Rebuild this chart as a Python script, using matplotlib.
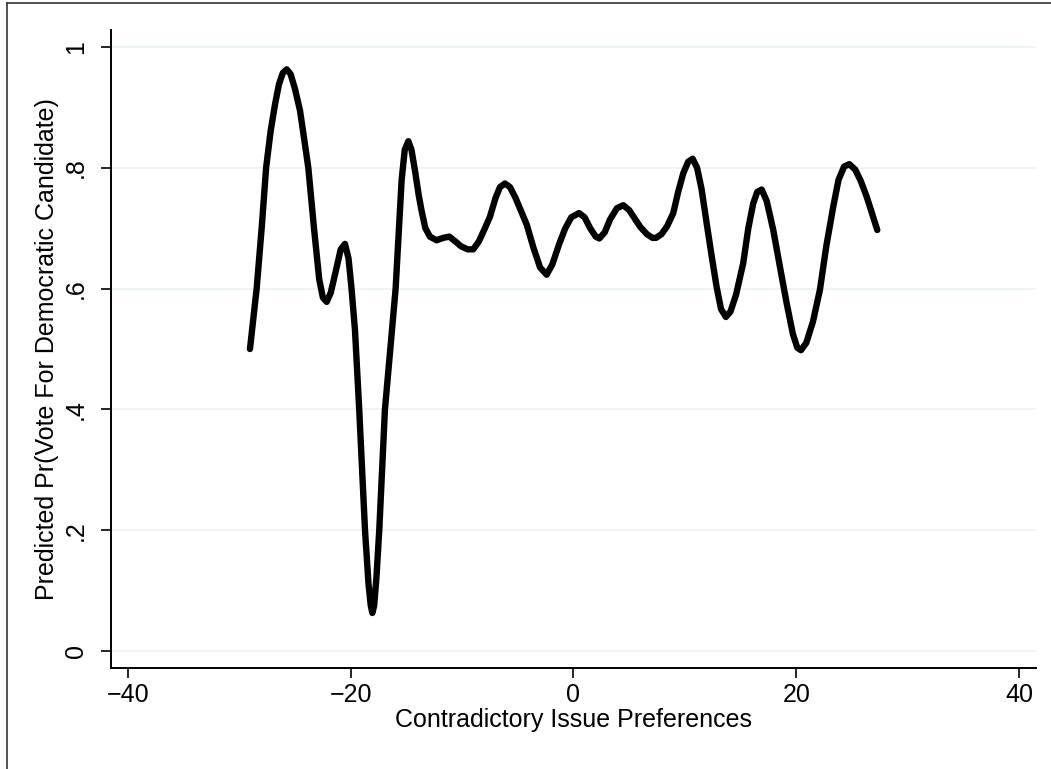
import matplotlib
matplotlib.use("Agg")
import matplotlib.pyplot as plt
from matplotlib.lines import Line2D

plt.rcParams['font.family'] = ['Liberation Sans', 'DejaVu Sans']

# predicted probability along the issue-preference scale
pref = [-29.05, -28.75, -28.45, -28.00, -27.60, -27.20, -26.80, -26.45, -26.10,
        -25.75, -25.40, -25.00, -24.56, -24.20, -23.81, -23.30, -22.83, -22.50,
        -22.16, -21.80, -21.33, -20.90, -20.52, -20.20, -19.93, -19.62, -19.24,
        -18.72, -18.40, -18.20, -18.06, -17.90, -17.70, -17.44, -16.93, -16.40,
        -15.97, -15.43, -15.15, -14.83, -14.55, -14.23, -13.90, -13.63, -13.30,
        -12.89, -12.29, -11.70, -11.15, -10.60, -10.10, -9.50, -9.00, -8.50,
        -8.00, -7.50, -7.00, -6.60, -6.15, -5.70, -5.20, -4.70, -4.20,
        -3.60, -3.00, -2.41, -1.90, -1.30, -0.76, -0.20, 0.50, 1.00,
        1.50, 2.00, 2.32, 2.80, 3.30, 3.90, 4.47, 5.00, 5.50,
        6.00, 6.60, 7.10, 7.41, 7.90, 8.40, 8.96, 9.40, 9.86,
        10.30, 10.70, 11.10, 11.50, 11.96, 12.40, 12.85, 13.25, 13.69,
        14.10, 14.60, 15.24, 15.70, 16.14, 16.50, 16.90, 17.35, 17.94,
        18.50, 19.14, 19.70, 20.10, 20.43, 20.90, 21.50, 22.13, 22.70,
        23.33, 23.80, 24.30, 24.77, 25.30, 25.80, 26.33, 26.80, 27.28]
prob = [0.500, 0.550, 0.600, 0.700, 0.800, 0.860, 0.905, 0.938, 0.957,
        0.963, 0.955, 0.930, 0.895, 0.850, 0.800, 0.700, 0.615, 0.585,
        0.578, 0.593, 0.630, 0.665, 0.674, 0.650, 0.600, 0.531, 0.400,
        0.200, 0.110, 0.075, 0.063, 0.075, 0.120, 0.200, 0.400, 0.510,
        0.600, 0.780, 0.830, 0.844, 0.830, 0.795, 0.755, 0.728, 0.700,
        0.686, 0.680, 0.684, 0.686, 0.678, 0.670, 0.665, 0.665, 0.678,
        0.698, 0.719, 0.750, 0.768, 0.774, 0.768, 0.750, 0.728, 0.706,
        0.668, 0.635, 0.623, 0.640, 0.673, 0.699, 0.718, 0.725, 0.718,
        0.700, 0.686, 0.683, 0.693, 0.715, 0.733, 0.738, 0.730, 0.716,
        0.702, 0.690, 0.684, 0.684, 0.690, 0.703, 0.725, 0.760, 0.791,
        0.810, 0.815, 0.800, 0.765, 0.708, 0.655, 0.603, 0.566, 0.553,
        0.562, 0.590, 0.642, 0.700, 0.741, 0.760, 0.764, 0.745, 0.697,
        0.640, 0.576, 0.525, 0.502, 0.498, 0.510, 0.545, 0.598, 0.670,
        0.736, 0.780, 0.802, 0.806, 0.797, 0.778, 0.752, 0.725, 0.697]

xticks = [-40, -20, 0, 20, 40]
xtick_labels = ['\u221240', '\u221220', '0', '20', '40']
yticks = [0, 0.2, 0.4, 0.6, 0.8, 1.0]
ytick_labels = ['0', '.2', '.4', '.6', '.8', '1']

fig = plt.figure(figsize=(10.51, 7.69), dpi=100)
ax = fig.add_axes([0.1056, 0.1313, 0.8801, 0.8297])

for yv in yticks:
    ax.axhline(yv, color='#eaf2f3', lw=1.2, zorder=0)

ax.plot(pref, prob, color='black', lw=4.6, solid_joinstyle='round',
        solid_capstyle='round', zorder=3)

ax.set_xlim(-41.53, 41.53)
ax.set_ylim(-0.0281, 1.0281)
ax.set_xticks(xticks)
ax.set_xticklabels(xtick_labels)
ax.set_yticks(yticks)
ax.set_yticklabels(ytick_labels, rotation=90, va='center')

ax.spines['top'].set_visible(False)
ax.spines['right'].set_visible(False)
for s in ('left', 'bottom'):
    ax.spines[s].set_linewidth(1.4)
ax.tick_params(direction='out', length=7.5, width=1.2, labelsize=18)
ax.tick_params(axis='x', pad=3)
ax.tick_params(axis='y', pad=9)

ax.set_xlabel('Contradictory Issue Preferences', fontsize=18, labelpad=1)
ax.set_ylabel('Predicted Pr(Vote For Democratic Candidate)', fontsize=18, labelpad=4)

# outer frame of the graph region
fig.add_artist(Line2D([7 / 1051, 7 / 1051], [0, 1 - 3 / 769],
                      transform=fig.transFigure, color='#333333', lw=1.2))
fig.add_artist(Line2D([7 / 1051, 1], [1 - 3 / 769, 1 - 3 / 769],
                      transform=fig.transFigure, color='#333333', lw=1.2))
fig.text(131 / 1051, 1 - 0.5 / 769, 'Date: 2000', family='Liberation Serif',
         fontsize=19, ha='right', va='baseline')

fig.savefig('out.png', dpi=100)
